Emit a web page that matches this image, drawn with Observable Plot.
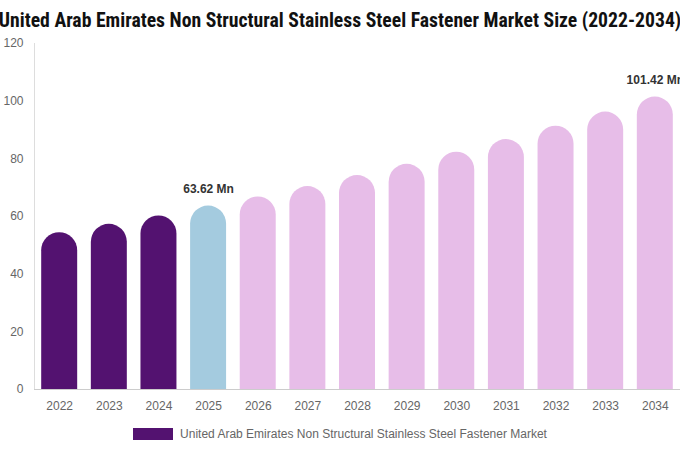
<!DOCTYPE html>
<html>
<head>
<meta charset="utf-8">
<script src="https://cdn.jsdelivr.net/npm/d3@7"></script>
<script src="https://cdn.jsdelivr.net/npm/@observablehq/plot@0.6"></script>
<style>
  html, body { margin: 0; padding: 0; background: #fff; width: 680px; overflow: hidden; }
  #title { height: 36px; line-height: 42px; text-align: center; white-space: nowrap;
    font-family: "Liberation Sans Narrow", "Roboto Condensed", "Liberation Sans", Arial, sans-serif;
    font-weight: bold; font-size: 19.7px; color: #111; overflow: hidden; margin-left: -8px; margin-right: -8px; }
  #legend { display: flex; justify-content: center; align-items: center; margin-top: 7px;
    font-family: "Liberation Sans", Arial, sans-serif; font-size: 12px; color: #666; }
  #legend .sw { width: 40px; height: 12px; background: #531270; margin-right: 7px; }
</style>
</head>
<body>
<div id="title">United Arab Emirates Non Structural Stainless Steel Fastener Market Size (2022-2034)</div>
<div id="chart"></div>
<div id="legend"><span class="sw"></span><span>United Arab Emirates Non Structural Stainless Steel Fastener Market</span></div>
<script>
const years = ["2022","2023","2024","2025","2026","2027","2028","2029","2030","2031","2032","2033","2034"];
const values = [54.4, 57.3, 60.2, 63.62, 66.8, 70.4, 74.2, 78.1, 82.3, 86.7, 91.3, 96.2, 101.42];
const phases = ["hist","hist","hist","base","fc","fc","fc","fc","fc","fc","fc","fc","fc"];
const labelYears = ["2025", "2034"];
const yTicks = [0, 20, 40, 60, 80, 100, 120];

const colorMap = {hist: "#531270", base: "#a4cbdf", fc: "#e7bde8"};
const data = years.map((y, i) => ({year: y, value: values[i], phase: phases[i]}));
const labels = data.filter(d => labelYears.includes(d.year));

const chart = Plot.plot({
  width: 680,
  height: 384,
  marginTop: 7,
  marginBottom: 31,
  marginLeft: 34,
  marginRight: 0,
  style: {fontFamily: "'Liberation Sans', Arial, sans-serif", fontSize: "12px", color: "#666", background: "#fff"},
  x: {domain: years, paddingInner: 0.275, paddingOuter: 0.145, round: false, label: null, tickSize: 0, tickPadding: 12},
  y: {domain: [0, 120], ticks: yTicks, label: null, tickSize: 0, tickPadding: 11},
  marks: [
    Plot.frame({anchor: "left", stroke: "#ddd", strokeOpacity: 1}),
    Plot.barY(data, {x: "year", y1: -8, y2: "value", fill: d => colorMap[d.phase], rx: 18, clip: true}),
    Plot.ruleY([0], {stroke: "#ccc"}),
    Plot.text(labels, {x: "year", y: "value", text: d => d.value.toFixed(2) + " Mn", dy: -17,
      fontWeight: "bold", fill: "#333", fontSize: 12})
  ]
});
document.getElementById("chart").appendChild(chart);
</script>
</body>
</html>
